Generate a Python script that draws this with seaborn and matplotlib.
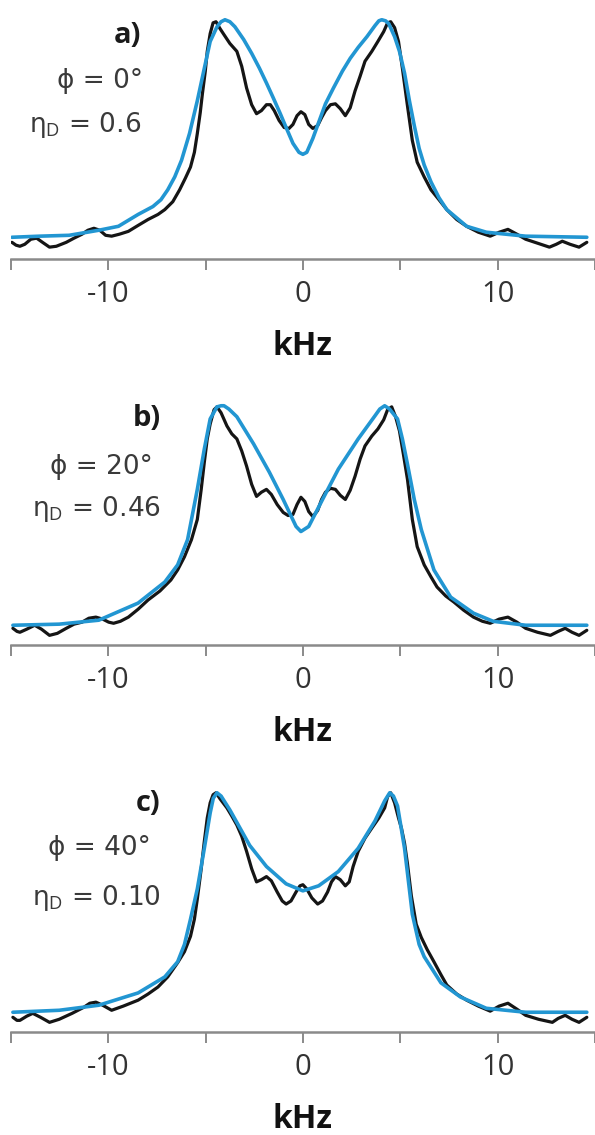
import pandas as pd
import matplotlib
matplotlib.use("Agg")
import matplotlib.pyplot as plt
import seaborn as sns

# panel a)  phi = 0, eta_D = 0.6
a_exp_khz = [-14.94, -14.73, -14.53, -14.28, -13.97, -13.67, -13.37, -13.01, -12.66, -12.15,
             -11.75, -11.34, -11.04, -10.73, -10.43, -10.13, -9.82, -9.42, -8.96, -8.46,
             -7.95, -7.44, -7.09, -6.68, -6.33, -6.03, -5.77, -5.57, -5.42, -5.27,
             -5.16, -5.01, -4.91, -4.76, -4.61, -4.46, -4.25, -4.05, -3.75, -3.39,
             -3.14, -2.89, -2.63, -2.38, -2.13, -1.87, -1.67, -1.47, -1.22, -0.96,
             -0.71, -0.51, -0.30, -0.10, 0.10, 0.30, 0.51, 0.76, 0.96, 1.16,
             1.42, 1.67, 1.92, 2.18, 2.43, 2.68, 2.94, 3.19, 3.54, 3.85,
             4.15, 4.35, 4.51, 4.71, 4.91, 5.11, 5.37, 5.62, 5.87, 6.23,
             6.58, 6.99, 7.39, 7.90, 8.41, 9.01, 9.62, 10.08, 10.53, 10.99,
             11.44, 12.05, 12.66, 13.01, 13.32, 13.72, 14.18, 14.58]
a_exp_int = [-0.014, -0.027, -0.032, -0.023, 0.000, 0.005, -0.014, -0.036, -0.032, -0.014,
             0.005, 0.023, 0.041, 0.050, 0.041, 0.018, 0.014, 0.023, 0.036, 0.063,
             0.090, 0.113, 0.135, 0.171, 0.225, 0.279, 0.329, 0.396, 0.482, 0.577,
             0.662, 0.766, 0.856, 0.937, 0.986, 0.991, 0.959, 0.932, 0.892, 0.856,
             0.788, 0.689, 0.613, 0.572, 0.586, 0.613, 0.613, 0.586, 0.541, 0.509,
             0.505, 0.523, 0.563, 0.581, 0.568, 0.523, 0.505, 0.518, 0.554, 0.586,
             0.613, 0.617, 0.595, 0.563, 0.599, 0.676, 0.743, 0.811, 0.856, 0.901,
             0.946, 0.986, 0.991, 0.964, 0.901, 0.779, 0.608, 0.450, 0.351, 0.284,
             0.225, 0.180, 0.135, 0.090, 0.059, 0.032, 0.014, 0.032, 0.045, 0.023,
             0.000, -0.018, -0.036, -0.023, -0.009, -0.023, -0.036, -0.014]
a_fit_khz = [-14.94, -13.52, -12.00, -10.48, -9.47, -8.46, -7.70, -7.29, -6.94, -6.58,
             -6.23, -5.82, -5.42, -5.06, -4.76, -4.41, -4.20, -4.00, -3.75, -3.49,
             -3.04, -2.63, -2.23, -1.87, -1.52, -1.16, -0.86, -0.51, -0.20, 0.00,
             0.20, 0.51, 0.81, 1.16, 1.57, 2.03, 2.43, 2.84, 3.29, 3.70,
             3.90, 4.05, 4.25, 4.41, 4.71, 4.96, 5.22, 5.47, 5.72, 5.97,
             6.23, 6.58, 6.99, 7.39, 8.41, 9.42, 11.44, 14.58]
a_fit_int = [0.009, 0.014, 0.018, 0.041, 0.059, 0.113, 0.149, 0.180, 0.225, 0.284,
             0.360, 0.482, 0.631, 0.779, 0.901, 0.968, 0.991, 1.000, 0.991, 0.968,
             0.910, 0.847, 0.779, 0.712, 0.644, 0.572, 0.509, 0.437, 0.396, 0.387,
             0.396, 0.459, 0.532, 0.617, 0.689, 0.766, 0.824, 0.874, 0.923, 0.973,
             0.995, 1.000, 0.995, 0.982, 0.923, 0.856, 0.757, 0.631, 0.518, 0.414,
             0.338, 0.261, 0.189, 0.135, 0.059, 0.032, 0.014, 0.009]

# panel b)  phi = 20, eta_D = 0.46
b_exp_khz = [-14.89, -14.68, -14.53, -14.18, -13.77, -13.42, -13.01, -12.61, -12.15, -11.75,
             -11.34, -10.99, -10.63, -10.28, -9.97, -9.72, -9.37, -8.96, -8.46, -7.95,
             -7.34, -6.78, -6.43, -6.08, -5.72, -5.42, -5.22, -5.06, -4.91, -4.76,
             -4.56, -4.41, -4.20, -3.90, -3.65, -3.39, -3.14, -2.89, -2.63, -2.38,
             -2.13, -1.87, -1.62, -1.32, -1.01, -0.76, -0.51, -0.30, -0.10, 0.10,
             0.30, 0.51, 0.76, 0.96, 1.16, 1.42, 1.67, 1.92, 2.18, 2.43,
             2.68, 2.94, 3.19, 3.54, 3.85, 4.15, 4.35, 4.56, 4.76, 4.96,
             5.16, 5.37, 5.62, 5.87, 6.23, 6.58, 6.89, 7.34, 7.75, 8.25,
             8.76, 9.22, 9.62, 10.08, 10.53, 10.99, 11.44, 12.05, 12.71, 13.11,
             13.47, 13.82, 14.18, 14.58]
b_exp_int = [-0.014, -0.028, -0.032, -0.018, 0.000, -0.018, -0.046, -0.037, -0.014, 0.005,
             0.014, 0.032, 0.037, 0.028, 0.014, 0.009, 0.018, 0.037, 0.073, 0.115,
             0.156, 0.206, 0.252, 0.312, 0.390, 0.482, 0.619, 0.743, 0.849, 0.917,
             0.982, 0.995, 0.968, 0.908, 0.872, 0.849, 0.794, 0.725, 0.642, 0.587,
             0.606, 0.619, 0.596, 0.550, 0.514, 0.500, 0.505, 0.550, 0.583, 0.564,
             0.518, 0.495, 0.523, 0.573, 0.606, 0.624, 0.619, 0.592, 0.573, 0.615,
             0.679, 0.757, 0.817, 0.862, 0.894, 0.936, 0.982, 0.995, 0.950, 0.885,
             0.780, 0.665, 0.482, 0.358, 0.275, 0.220, 0.174, 0.133, 0.106, 0.069,
             0.037, 0.018, 0.009, 0.028, 0.037, 0.014, -0.014, -0.032, -0.046, -0.028,
             -0.014, -0.032, -0.046, -0.023]
b_fit_khz = [-14.89, -12.51, -10.48, -8.46, -7.09, -6.43, -5.92, -5.42, -5.06, -4.76,
             -4.41, -4.20, -4.05, -3.80, -3.39, -2.53, -1.72, -1.01, -0.35, -0.10,
             0.30, 1.01, 1.82, 2.84, 3.70, 3.95, 4.20, 4.45, 4.86, 5.11,
             5.37, 5.72, 6.08, 6.73, 7.59, 8.76, 9.77, 11.44, 14.58]
b_fit_int = [0.000, 0.005, 0.023, 0.101, 0.197, 0.275, 0.390, 0.619, 0.803, 0.940,
             0.995, 1.000, 1.000, 0.985, 0.950, 0.826, 0.697, 0.573, 0.450, 0.427,
             0.450, 0.573, 0.711, 0.849, 0.954, 0.985, 1.000, 0.985, 0.940, 0.849,
             0.734, 0.573, 0.436, 0.252, 0.128, 0.055, 0.018, 0.000, 0.000]

# panel c)  phi = 40, eta_D = 0.10
c_exp_khz = [-14.89, -14.68, -14.53, -14.18, -13.87, -13.47, -13.01, -12.51, -11.85, -11.24,
             -10.94, -10.63, -10.28, -9.82, -9.22, -8.46, -7.95, -7.44, -6.94, -6.43,
             -6.08, -5.77, -5.57, -5.42, -5.22, -5.06, -4.91, -4.76, -4.61, -4.46,
             -4.25, -3.90, -3.65, -3.39, -3.14, -2.89, -2.63, -2.38, -2.13, -1.87,
             -1.62, -1.32, -1.06, -0.86, -0.61, -0.35, -0.15, 0.00, 0.20, 0.46,
             0.76, 1.01, 1.27, 1.47, 1.67, 1.92, 2.18, 2.38, 2.58, 2.84,
             3.19, 3.54, 3.90, 4.20, 4.35, 4.51, 4.71, 4.91, 5.06, 5.22,
             5.37, 5.57, 5.82, 6.08, 6.38, 6.73, 7.09, 7.39, 7.90, 8.41,
             9.01, 9.62, 10.08, 10.53, 10.99, 11.44, 12.10, 12.81, 13.11, 13.47,
             13.82, 14.18, 14.58]
c_exp_int = [-0.023, -0.037, -0.037, -0.018, -0.005, -0.023, -0.046, -0.032, -0.005, 0.023,
             0.041, 0.046, 0.032, 0.009, 0.028, 0.055, 0.083, 0.115, 0.161, 0.226,
             0.276, 0.346, 0.424, 0.516, 0.654, 0.779, 0.885, 0.954, 0.991, 1.000,
             0.972, 0.931, 0.894, 0.853, 0.802, 0.733, 0.654, 0.594, 0.604, 0.618,
             0.599, 0.548, 0.507, 0.493, 0.507, 0.548, 0.576, 0.581, 0.562, 0.521,
             0.493, 0.507, 0.548, 0.594, 0.618, 0.604, 0.576, 0.594, 0.664, 0.733,
             0.793, 0.839, 0.885, 0.931, 0.982, 1.000, 0.954, 0.885, 0.839, 0.770,
             0.677, 0.530, 0.401, 0.341, 0.286, 0.230, 0.171, 0.124, 0.083, 0.055,
             0.028, 0.005, 0.028, 0.041, 0.014, -0.014, -0.032, -0.046, -0.028, -0.014,
             -0.032, -0.046, -0.023]
c_fit_khz = [-14.89, -12.51, -10.48, -8.46, -7.09, -6.43, -6.08, -5.77, -5.42, -5.06,
             -4.76, -4.60, -4.41, -4.20, -3.75, -2.73, -1.87, -0.86, 0.00, 0.81,
             1.82, 2.84, 3.70, 4.20, 4.46, 4.65, 4.86, 5.22, 5.62, 5.97,
             6.23, 7.09, 8.10, 9.42, 11.44, 14.58]
c_fit_int = [0.000, 0.009, 0.032, 0.088, 0.161, 0.230, 0.309, 0.424, 0.562, 0.747,
             0.908, 0.975, 1.000, 0.985, 0.922, 0.760, 0.664, 0.585, 0.553, 0.576,
             0.641, 0.747, 0.871, 0.963, 1.000, 0.985, 0.940, 0.747, 0.447, 0.309,
             0.253, 0.134, 0.069, 0.018, 0.000, 0.000]

panel_tags = ["a)", "b)", "c)"]
phi_labels = ["ϕ = 0°", "ϕ = 20°", "ϕ = 40°"]
eta_labels = ["η$_\\mathrm{D}$ = 0.6", "η$_\\mathrm{D}$ = 0.46", "η$_\\mathrm{D}$ = 0.10"]
tick_khz = [-15, -10, -5, 0, 5, 10, 15]
tick_text = ["", "-10", "", "0", "", "10", ""]

sns.set_style("white")
plt.rcParams["font.family"] = ["Open Sans", "DejaVu Sans"]
plt.rcParams["mathtext.fontset"] = "custom"
plt.rcParams["mathtext.rm"] = "Open Sans"

fig = plt.figure(figsize=(5.95, 11.35), dpi=100)
H = 1135.0
axis_rows = [259, 645, 1032]     # pixel row of each x axis line
panel_h = 259

curves = [
    (a_exp_khz, a_exp_int, a_fit_khz, a_fit_int),
    (b_exp_khz, b_exp_int, b_fit_khz, b_fit_int),
    (c_exp_khz, c_exp_int, c_fit_khz, c_fit_int),
]
tag_right = [-8.30, -7.29, -7.34]
phi_right = [-8.20, -7.70, -7.80]
eta_right = [-8.30, -7.29, -7.29]
tag_y = [0.93, 0.94, 0.95]
phi_y = [0.72, 0.72, 0.75]
eta_y = [0.52, 0.53, 0.52]
note_font = ["DejaVu Sans", "Open Sans"]

for i, (ex, ey, fx, fy) in enumerate(curves):
    bottom = 1 - axis_rows[i] / H
    ax = fig.add_axes([10.75 / 595, bottom, 1 - 10.75 / 595, panel_h / H])
    exp_df = pd.DataFrame({"kHz": ex, "I": ey})
    fit_df = pd.DataFrame({"kHz": fx, "I": fy})
    sns.lineplot(data=exp_df, x="kHz", y="I", ax=ax, color="#151515",
                 linewidth=2.3, estimator=None, sort=False,
                 solid_joinstyle="round", solid_capstyle="round")
    sns.lineplot(data=fit_df, x="kHz", y="I", ax=ax, color="#2296d2",
                 linewidth=2.6, estimator=None, sort=False,
                 solid_joinstyle="round", solid_capstyle="round")

    ax.set_xlim(-15, 14.58)
    ax.set_ylim(-0.09, 1.09)
    for side in ["top", "left", "right"]:
        ax.spines[side].set_visible(False)
    ax.spines["bottom"].set_color("#8a8a8a")
    ax.spines["bottom"].set_linewidth(1.8)
    ax.set_yticks([])
    ax.set_ylabel("")
    ax.set_xticks(tick_khz)
    ax.set_xticklabels(tick_text)
    ax.tick_params(axis="x", direction="out", length=8, width=1.4,
                   color="#8a8a8a", labelsize=21, labelcolor="#333333", pad=7,
                   bottom=True)
    ax.set_xlabel("kHz", fontsize=23, fontweight="bold", color="#111111", labelpad=15)
    ax.patch.set_alpha(0)

    ax.text(tag_right[i], tag_y[i], panel_tags[i], ha="right", va="center",
            fontsize=21, fontweight="bold", color="#1a1a1a")
    ax.text(phi_right[i], phi_y[i], phi_labels[i], ha="right", va="center",
            fontsize=19, color="#3a3a3a", family=note_font)
    ax.text(eta_right[i], eta_y[i], eta_labels[i], ha="right", va="center",
            fontsize=19, color="#3a3a3a", family=note_font)

fig.savefig("out.png", dpi=100)
